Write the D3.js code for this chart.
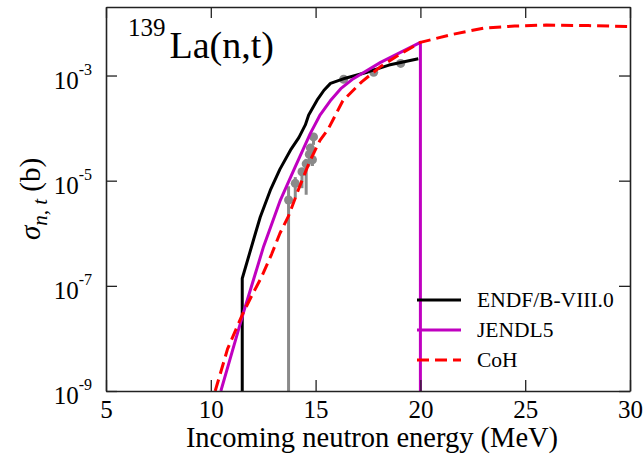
<!DOCTYPE html>
<html>
<head>
<meta charset="utf-8">
<script src="https://cdn.jsdelivr.net/npm/d3@7"></script>
<style>
  html, body { margin: 0; padding: 0; background: #fff; }
  svg { display: block; }
  text { font-family: "Liberation Serif", "Times New Roman", serif; fill: #000; }
</style>
</head>
<body>
<svg id="chart" width="644" height="459"></svg>
<script>
// ---------------- data ----------------
const xTicks = [5, 10, 15, 20, 25, 30];
const yTicks = [1e-9, 1e-7, 1e-5, 1e-3];

// ENDF/B-VIII.0 (first point below axis -> vertical threshold drop)
const endfE = [11.5, 11.5, 12.13, 12.36, 12.84, 13.3, 13.8, 14.2, 14.51, 14.67, 15.07, 15.4, 15.71, 16.42, 17.5, 18.5, 19.9];
const endfS = [1e-12, 1.38e-7, 1e-6, 2.04e-6, 6.6e-6, 1.66e-5, 3.8e-5, 6.6e-5, 1.15e-4, 1.78e-4, 3.39e-4, 5.25e-4, 7.08e-4, 8.9e-4, 1.17e-3, 1.58e-3, 2.09e-3];

// JENDL5 (ends with vertical drop at 20 MeV)
const jendlE = [10.48, 11.0, 11.55, 12.0, 12.52, 13.32, 14.0, 14.75, 15.2, 15.7, 16.2, 16.8, 18.1, 20.0, 20.0];
const jendlS = [1e-9, 5.25e-9, 3.02e-8, 1.17e-7, 5.62e-7, 4.27e-6, 1.74e-5, 7.94e-5, 1.74e-4, 3.31e-4, 5.62e-4, 8.71e-4, 1.78e-3, 4.27e-3, 1e-12];

// CoH
const cohE = [10.21, 10.8, 11.5, 12.0, 12.4, 12.9, 13.3, 13.7, 14.2, 14.7, 15.2, 15.6, 16.3, 17.2, 18.1, 19.0, 20.0, 21.5, 23.0, 24.5, 26.0, 28.0, 30.0];
const cohS = [1e-9, 6.31e-9, 2.82e-8, 7.08e-8, 1.41e-7, 3.98e-7, 1e-6, 2.09e-6, 7.08e-6, 2.24e-5, 5.75e-5, 9.55e-5, 3.31e-4, 7.59e-4, 1.48e-3, 2.51e-3, 4.27e-3, 6.03e-3, 7.94e-3, 8.71e-3, 9.12e-3, 8.91e-3, 8.51e-3];

// Experimental data: energy, cross section, lower and upper error-bar ends
const expE  = [13.71, 14.03, 14.35, 14.55, 14.7, 14.85, 14.75, 14.9, 16.34, 17.77, 19.06];
const expS  = [4.3e-6, 8.9e-6, 1.48e-5, 2.09e-5, 3.16e-5, 2.5e-5, 4.17e-5, 6.8e-5, 8.5e-4, 1.15e-3, 1.7e-3];
const expLo = [1e-12, 4.7e-6, 7.2e-6, 5.4e-6, 2.5e-5, 1.9e-5, 3.4e-5, 4.8e-5, 8.0e-4, 1.1e-3, 1.6e-3];
const expHi = [7.8e-6, 1.17e-5, 1.6e-5, 2.6e-5, 4.0e-5, 3.1e-5, 5.0e-5, 8.1e-5, 9.0e-4, 1.2e-3, 1.8e-3];

const legendLabels = ["ENDF/B-VIII.0", "JENDL5", "CoH"];

// ---------------- layout ----------------
const L = 106, R = 630, T = 7, B = 391;
const svg = d3.select("#chart");
const x = d3.scaleLinear().domain([5, 30]).range([L, R]);
const y = d3.scaleLog().domain([1e-9, 0.0201]).range([B, T]);

svg.append("defs").append("clipPath").attr("id", "clip")
  .append("rect").attr("x", L).attr("y", T).attr("width", R - L).attr("height", B - T);

const plot = svg.append("g").attr("clip-path", "url(#clip)");

// experimental data
const expData = expE.map((e, i) => ({e, s: expS[i], lo: expLo[i], hi: expHi[i]}));
plot.selectAll("line.err").data(expData).enter().append("line")
  .attr("x1", d => x(d.e)).attr("x2", d => x(d.e))
  .attr("y1", d => y(d.lo)).attr("y2", d => y(d.hi))
  .attr("stroke", "#8a8a8a").attr("stroke-width", 3);
plot.selectAll("circle.pt").data(expData).enter().append("circle")
  .attr("cx", d => x(d.e)).attr("cy", d => y(d.s)).attr("r", 4.5)
  .attr("fill", "#8a8a8a");

const line = d3.line().x(d => x(d[0])).y(d => y(d[1]));
const series = [
  {E: endfE, S: endfS, color: "#000000", dash: null},
  {E: jendlE, S: jendlS, color: "#c000c0", dash: null},
  {E: cohE, S: cohS, color: "#ff0000", dash: "12,6"}
];
series.forEach(s => {
  plot.append("path")
    .datum(s.E.map((e, i) => [e, s.S[i]]))
    .attr("d", line)
    .attr("fill", "none")
    .attr("stroke", s.color)
    .attr("stroke-width", 3)
    .attr("stroke-linejoin", "round")
    .attr("stroke-dasharray", s.dash);
});

// ---------------- axes ----------------
const axisColor = "#222";
function styleAxis(g) {
  g.select(".domain").attr("stroke", axisColor).attr("stroke-width", 1.6);
  g.selectAll(".tick line").attr("stroke", axisColor).attr("stroke-width", 1.3);
}
const xb = svg.append("g").attr("transform", `translate(0,${B})`)
  .call(d3.axisBottom(x).tickValues(xTicks).tickSizeInner(-11).tickSizeOuter(0).tickPadding(9).tickFormat(d3.format("d")));
xb.call(styleAxis);
xb.selectAll(".tick text").attr("font-size", "25px").attr("font-family", "Liberation Serif").attr("fill", "#000");

const xt = svg.append("g").attr("transform", `translate(0,${T})`)
  .call(d3.axisTop(x).tickValues(xTicks).tickSizeInner(-11).tickSizeOuter(0).tickFormat(""));
xt.call(styleAxis);

const yl = svg.append("g").attr("transform", `translate(${L},0)`)
  .call(d3.axisLeft(y).tickValues(yTicks).tickSizeInner(-11).tickSizeOuter(0).tickPadding(14).tickFormat(""));
yl.call(styleAxis);
yl.selectAll(".tick text").each(function(d) {
  const t = d3.select(this);
  t.attr("dy", "0.5em").attr("font-size", "25px").attr("font-family", "Liberation Serif").attr("fill", "#000");
  t.append("tspan").text("10");
  t.append("tspan").attr("dy", "-14").attr("font-size", "16px").text("-" + Math.abs(Math.round(Math.log10(d))));
});

const yr = svg.append("g").attr("transform", `translate(${R},0)`)
  .call(d3.axisRight(y).tickValues(yTicks).tickSizeInner(-11).tickSizeOuter(0).tickFormat(""));
yr.call(styleAxis);

// ---------------- labels ----------------
svg.append("text").attr("x", 372).attr("y", 447)
  .attr("text-anchor", "middle").attr("font-size", "28.5px")
  .text("Incoming neutron energy (MeV)");

const yLab = svg.append("text")
  .attr("transform", "translate(40,199) rotate(-90)")
  .attr("text-anchor", "middle").attr("font-size", "29px");
yLab.append("tspan").attr("font-style", "italic").text("σ");
yLab.append("tspan").attr("font-style", "italic").attr("font-size", "21px").attr("dy", 7).text("n, t");
yLab.append("tspan").attr("dy", -7).text(" (b)");

const title = svg.append("text").attr("x", 128).attr("y", 58).attr("font-size", "38px");
title.append("tspan").attr("font-size", "25px").attr("dy", -22).text("139");
title.append("tspan").attr("dy", 22).attr("dx", 4).text("La(n,t)");

// ---------------- legend ----------------
const leg = svg.append("g");
legendLabels.forEach((lab, i) => {
  const yy = 300 + i * 30;
  leg.append("line").attr("x1", 417).attr("x2", 461).attr("y1", yy).attr("y2", yy)
    .attr("stroke", series[i].color).attr("stroke-width", 3)
    .attr("stroke-dasharray", series[i].dash);
  leg.append("text").attr("x", 477).attr("y", yy + 7).attr("font-size", "21.5px").text(lab);
});
</script>
</body>
</html>
